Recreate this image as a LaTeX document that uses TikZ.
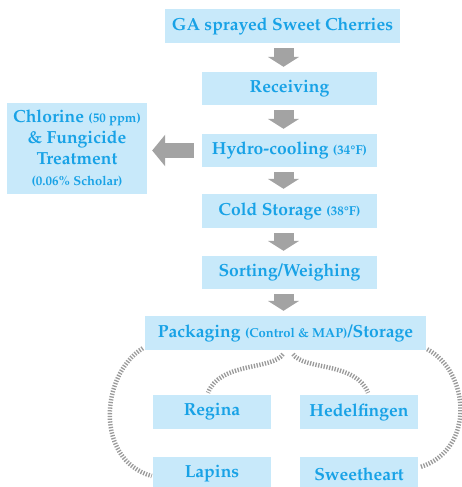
\documentclass[tikz,border=0pt]{standalone}
\usepackage[T1]{fontenc}
\usepackage{mathpazo}
\usetikzlibrary{arrows.meta}
\definecolor{boxfill}{HTML}{C8E9FA}
\definecolor{textblue}{HTML}{18A2E6}
\definecolor{arrowgray}{HTML}{A3A3A3}
\definecolor{tickgray}{HTML}{9A9A9A}
\newcommand{\sm}[1]{{\fontsize{13}{15}\selectfont #1}}
\begin{document}
\begin{tikzpicture}[x=1pt,y=-1pt,
  box/.style={fill=boxfill,text=textblue,inner sep=0pt,align=center,
    font=\fontsize{17.5}{21}\selectfont\bfseries},
  downarr/.style={draw=arrowgray,line width=20pt,-{Triangle[width=31pt,length=10pt]},
    shorten <=5pt,shorten >=5pt},
  leftarr/.style={draw=arrowgray,line width=15pt,-{Triangle[width=31pt,length=13pt]},
    shorten <=8pt,shorten >=5pt},
  ticks/.style={draw=tickgray,line width=4.5pt,dash pattern=on 1.3pt off 1.5pt}]
\useasboundingbox (0,0) rectangle (461,487);
\node[box,minimum width=235pt,minimum height=34pt] (ga) at (282.5,26) {GA sprayed Sweet Cherries};
\node[box,minimum width=175pt,minimum height=33pt] (rec) at (289.5,88.5) {Receiving};
\node[box,minimum width=175pt,minimum height=33pt] (hyd) at (289.5,150.5) {Hydro-cooling \sm{(34\textdegree F)}};
\node[box,minimum width=140pt,minimum height=91pt] (chl) at (77,148.5) {Chlorine \sm{(50 ppm)}\\ \& Fungicide\\ Treatment\\ \sm{(0.06\% Scholar)}};
\node[box,minimum width=175pt,minimum height=34pt] (cold) at (289.5,211) {Cold Storage \sm{(38\textdegree F)}};
\node[box,minimum width=175pt,minimum height=33pt] (sort) at (289.5,272.5) {Sorting/Weighing};
\node[box,minimum width=281pt,minimum height=34pt] (pack) at (285.5,333) {Packaging \sm{(Control \& MAP)}/Storage};
\node[box,minimum width=118pt,minimum height=34pt] (reg) at (212,412) {Regina};
\node[box,minimum width=118pt,minimum height=34pt] (hed) at (359,412) {Hedelfingen};
\node[box,minimum width=118pt,minimum height=34pt] (lap) at (212,474) {Lapins};
\node[box,minimum width=118pt,minimum height=34pt] (swt) at (359,474) {Sweetheart};
\coordinate (ax) at (283.5,0);
\draw[downarr] (ga.south -| ax) -- (rec.north -| ax);
\draw[downarr] (rec.south -| ax) -- (hyd.north -| ax);
\draw[downarr] (hyd.south -| ax) -- (cold.north -| ax);
\draw[downarr] (cold.south -| ax) -- (sort.north -| ax);
\draw[downarr] (sort.south -| ax) -- (pack.north -| ax);
\draw[leftarr] (hyd.west) -- (chl.east |- hyd.west);
\draw[ticks] ([shift={(-2.5,4)}]pack.south) .. controls +(-11,16) and +(12,-31) .. ([shift={(-4,-2)}]reg.north);
\draw[ticks] ([shift={(7.5,4)}]pack.south) .. controls +(11,16) and +(-12,-31) .. ([shift={(9,-2)}]hed.north);
\draw[ticks] ([shift={(-2,-2)}]pack.south west) .. controls +(-43,27) and +(-57,-16) .. ([shift={(-1,2)}]lap.west);
\draw[ticks] ([shift={(1,-1)}]pack.south east) .. controls +(43,23) and +(55,-17) .. ([shift={(2,-7)}]swt.east);
\end{tikzpicture}
\end{document}
